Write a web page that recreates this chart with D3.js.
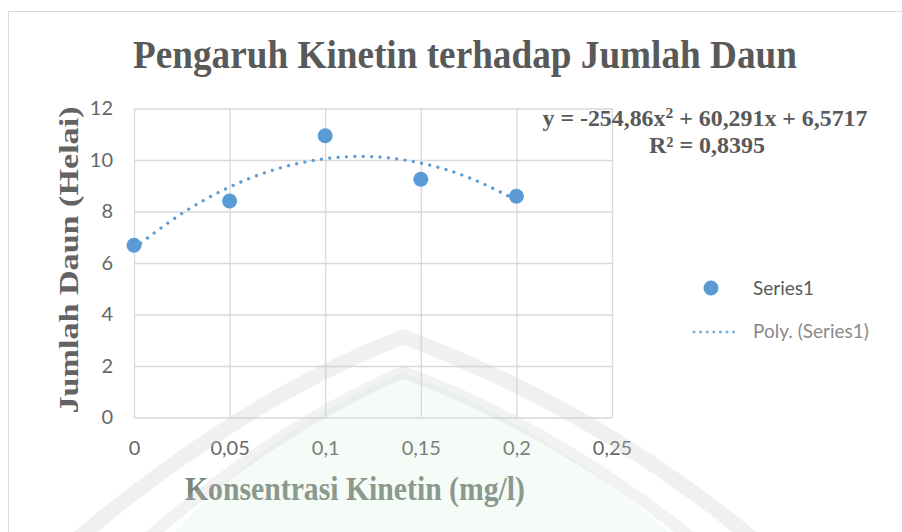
<!DOCTYPE html>
<html>
<head>
<meta charset="utf-8">
<script src="https://cdn.jsdelivr.net/npm/d3@7"></script>
<style>
  html, body { margin: 0; padding: 0; background: #fff; }
  svg { display: block; }
</style>
</head>
<body>
<div id="chart"></div>
<script>
// data
const konsentrasi = [0, 0.05, 0.1, 0.15, 0.2];
const jumlahDaun = [6.69, 8.41, 10.94, 9.25, 8.59];

// polynomial trendline as it is drawn
const trendX = [0, 0.025, 0.05, 0.075, 0.1, 0.125, 0.15, 0.175, 0.2];
const trendY = [6.57, 7.92, 8.95, 9.66, 10.05, 10.13, 9.88, 9.32, 8.44];

const xTicks = [0, 0.05, 0.1, 0.15, 0.2, 0.25];
const yTicks = [0, 2, 4, 6, 8, 10, 12];

const titleText = "Pengaruh Kinetin terhadap Jumlah Daun";
const xTitle = "Konsentrasi Kinetin (mg/l)";
const yTitle = "Jumlah Daun (Helai)";
const legendNames = ["Series1", "Poly. (Series1)"];

const W = 902, H = 532;
const blue = "#5b9bd5";
const textGray = "#595959";

const locale = d3.formatLocale({ decimal: ",", thousands: ".", grouping: [3], currency: ["", ""] });
const fmt = locale.format("~g");

const svg = d3.select("#chart").append("svg")
    .attr("width", W)
    .attr("height", H);

// chart frame
svg.append("rect")
    .attr("x", 8.5).attr("y", 11.5)
    .attr("width", W).attr("height", H)
    .attr("fill", "#fff")
    .attr("stroke", "#d9d9d9");

const x = d3.scaleLinear().domain([0, 0.25]).range([134, 612]);
const y = d3.scaleLinear().domain([0, 12]).range([417.5, 108.5]);

// gridlines via axes
const yAxis = svg.append("g")
    .attr("transform", `translate(${x(0)},0)`)
    .call(d3.axisLeft(y).tickValues(yTicks).tickSize(-(x(0.25) - x(0))).tickPadding(21).tickFormat(fmt));
const xAxis = svg.append("g")
    .attr("transform", `translate(0,${y(0)})`)
    .call(d3.axisBottom(x).tickValues(xTicks).tickSize(-(y(0) - y(12))).tickPadding(23).tickFormat(fmt));

[xAxis, yAxis].forEach(g => {
    g.select(".domain").remove();
    g.selectAll("line").attr("stroke", "#d9d9d9").attr("stroke-width", 1.3);
    g.selectAll("text")
        .attr("fill", "#666")
        .style("font-family", "Lato, 'Open Sans', sans-serif")
        .style("font-size", "20px");
});

// trendline
const line = d3.line()
    .x((d, i) => x(trendX[i]))
    .y(d => y(d))
    .curve(d3.curveNatural);

svg.append("path")
    .datum(trendY)
    .attr("d", line)
    .attr("fill", "none")
    .attr("stroke", blue)
    .attr("stroke-width", 3.2)
    .attr("stroke-linecap", "round")
    .attr("stroke-dasharray", "0.1 8.3");

// points
svg.selectAll(".pt")
    .data(jumlahDaun)
    .enter().append("circle")
    .attr("class", "pt")
    .attr("cx", (d, i) => x(konsentrasi[i]))
    .attr("cy", d => y(d))
    .attr("r", 7.5)
    .attr("fill", blue);

// title
svg.append("text")
    .attr("x", 465).attr("y", 68)
    .attr("text-anchor", "middle")
    .attr("textLength", 664)
    .attr("lengthAdjust", "spacingAndGlyphs")
    .attr("fill", textGray)
    .style("font-family", "'Liberation Serif', 'Times New Roman', serif")
    .style("font-weight", "bold")
    .style("font-size", "39px")
    .text(titleText);

// axis titles
svg.append("text")
    .attr("transform", "translate(78,260) scale(0.85,1) rotate(-90)")
    .attr("text-anchor", "middle")
    .attr("textLength", 307)
    .attr("lengthAdjust", "spacingAndGlyphs")
    .attr("fill", "#636363")
    .style("font-family", "'Liberation Serif', 'Times New Roman', serif")
    .style("font-weight", "bold")
    .style("font-size", "31px")
    .text(yTitle);

svg.append("text")
    .attr("x", 355).attr("y", 500)
    .attr("text-anchor", "middle")
    .attr("textLength", 340)
    .attr("lengthAdjust", "spacingAndGlyphs")
    .attr("fill", "#7a857c")
    .style("font-family", "'Liberation Serif', 'Times New Roman', serif")
    .style("font-weight", "bold")
    .style("font-size", "33px")
    .text(xTitle);

// equation
const eq = svg.append("text")
    .attr("x", 705).attr("y", 126)
    .attr("text-anchor", "middle")
    .attr("textLength", 325)
    .attr("lengthAdjust", "spacingAndGlyphs")
    .attr("fill", textGray)
    .style("font-family", "'Liberation Serif', 'Times New Roman', serif")
    .style("font-weight", "bold")
    .style("font-size", "23px");
eq.append("tspan").text("y = -254,86x");
eq.append("tspan").attr("dy", -8).style("font-size", "15px").text("2");
eq.append("tspan").attr("dy", 8).text(" + 60,291x + 6,5717");

svg.append("text")
    .attr("x", 707).attr("y", 153)
    .attr("text-anchor", "middle")
    .attr("textLength", 116)
    .attr("lengthAdjust", "spacingAndGlyphs")
    .attr("fill", textGray)
    .style("font-family", "'Liberation Serif', 'Times New Roman', serif")
    .style("font-weight", "bold")
    .style("font-size", "23px")
    .text("R² = 0,8395");

// legend
const legend = svg.append("g");
legend.append("circle")
    .attr("cx", 711).attr("cy", 288).attr("r", 7.5)
    .attr("fill", blue);
legend.append("line")
    .attr("x1", 694).attr("x2", 740)
    .attr("y1", 332).attr("y2", 332)
    .attr("stroke", "#7fb1de")
    .attr("stroke-width", 3)
    .attr("stroke-linecap", "round")
    .attr("stroke-dasharray", "0.1 6.5");
legend.selectAll(".lt")
    .data(legendNames)
    .enter().append("text")
    .attr("class", "lt")
    .attr("x", 753)
    .attr("y", (d, i) => 295 + i * 43)
    .attr("fill", (d, i) => i === 0 ? textGray : "#8a8a8a")
    .style("font-family", "Lato, 'Open Sans', sans-serif")
    .style("font-size", "19px")
    .text(d => d);

// faint watermark on top of the chart
const wm = svg.append("g").attr("pointer-events", "none");
wm.append("path")
    .attr("d", "M150,560 Q260,430 403,372 Q560,430 700,560 Z")
    .attr("fill", "rgba(205,235,212,0.2)");
wm.append("path")
    .attr("d", "M70,545 Q240,400 403,337 Q600,410 760,545")
    .attr("fill", "none")
    .attr("stroke", "rgba(200,200,200,0.28)")
    .attr("stroke-width", 15);
wm.append("path")
    .attr("d", "M140,545 Q270,430 403,372 Q560,430 700,545")
    .attr("fill", "none")
    .attr("stroke", "rgba(200,200,200,0.24)")
    .attr("stroke-width", 12);
</script>
</body>
</html>
